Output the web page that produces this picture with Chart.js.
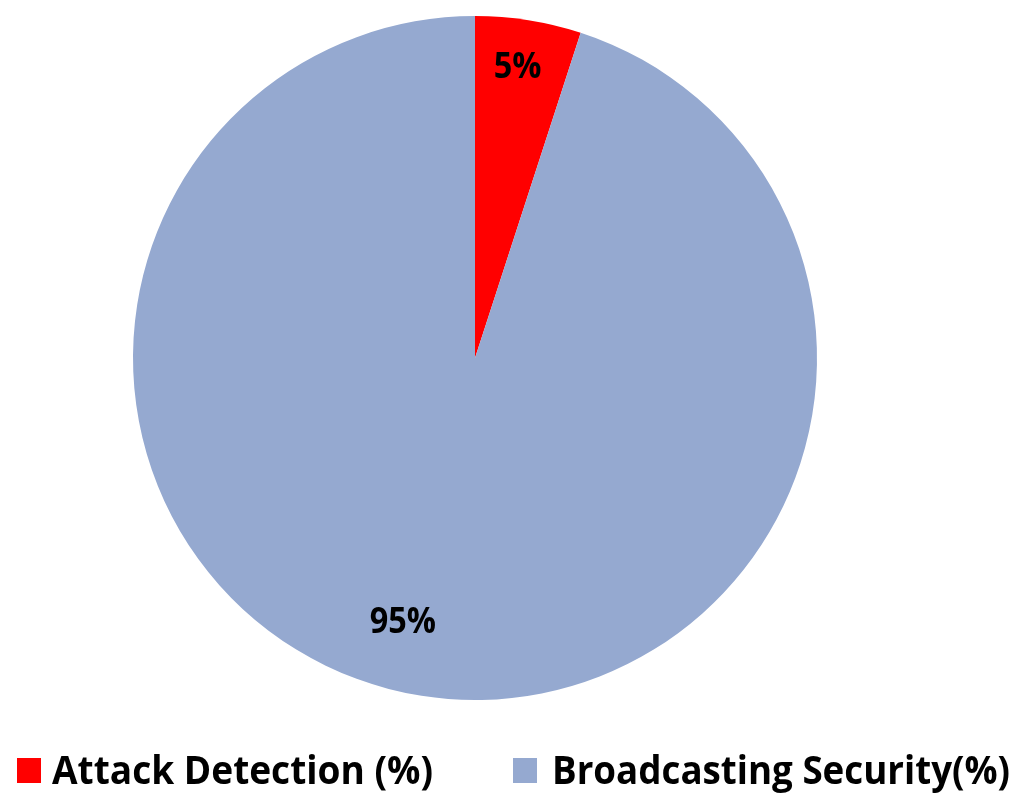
<!DOCTYPE html>
<html>
<head>
<meta charset="utf-8">
<script src="https://cdn.jsdelivr.net/npm/chart.js@4/dist/chart.umd.min.js"></script>
<style>
  html, body { margin: 0; padding: 0; background: #ffffff; }
  #wrap { width: 1024px; height: 810px; position: relative; }
</style>
</head>
<body>
<div id="wrap"><canvas id="c" width="1024" height="810"></canvas></div>
<script>
const categories = ["Attack Detection (%)", "Broadcasting Security(%)"];
const values = [5, 95];
const valueLabels = ["5%", "95%"];
const colors = ["#FF0000", "#95A9D0"];

const FONT = '"Open Sans", "Liberation Sans", sans-serif';

// Data labels drawn inside slices
const sliceLabels = {
  id: 'sliceLabels',
  afterDatasetsDraw(chart) {
    const ctx = chart.ctx;
    const meta = chart.getDatasetMeta(0);
    // per-slice radial fraction and angular offset (style)
    const place = [{ r: 0.86, da: -0.012 }, { r: 0.80, da: 0.11 }];
    meta.data.forEach((arc, i) => {
      const p = arc.getProps(['x', 'y', 'startAngle', 'endAngle', 'outerRadius'], true);
      const mid = (p.startAngle + p.endAngle) / 2 + place[i].da;
      const rr = p.outerRadius * place[i].r;
      const x = p.x + Math.cos(mid) * rr;
      const y = p.y + Math.sin(mid) * rr;
      ctx.save();
      ctx.font = 'bold 36px ' + FONT;
      ctx.fillStyle = '#000000';
      ctx.textAlign = 'center';
      ctx.textBaseline = 'middle';
      ctx.translate(x, y + 1);
      ctx.scale(0.9, 1);
      ctx.fillText(valueLabels[i], 0, 0);
      ctx.restore();
    });
  }
};

// Bottom legend with condensed bold text
const bottomLegend = {
  id: 'bottomLegend',
  afterDraw(chart) {
    const ctx = chart.ctx;
    const labels = chart.data.labels;
    const bg = chart.data.datasets[0].backgroundColor;
    const boxX = [17, 513];
    const textX = [52, 552];
    const textW = [381, 458];
    const boxTop = 758, boxSize = 25, baseline = 784;
    labels.forEach((lab, i) => {
      ctx.save();
      ctx.fillStyle = bg[i];
      ctx.fillRect(boxX[i], boxTop, 24, boxSize);
      ctx.font = 'bold 40px ' + FONT;
      ctx.fillStyle = '#000000';
      ctx.textBaseline = 'alphabetic';
      ctx.textAlign = 'left';
      const w = ctx.measureText(lab).width;
      const s = textW[i] / w;
      ctx.translate(textX[i], baseline);
      ctx.scale(s, 1);
      ctx.fillText(lab, 0, 0);
      ctx.restore();
    });
  }
};

new Chart(document.getElementById('c'), {
  type: 'pie',
  data: {
    labels: categories,
    datasets: [{
      data: values,
      backgroundColor: colors,
      borderWidth: 0
    }]
  },
  options: {
    responsive: false,
    animation: false,
    layout: { padding: { left: 133, right: 207, top: 16, bottom: 110 } },
    plugins: {
      legend: { display: false },
      tooltip: { enabled: false }
    }
  },
  plugins: [sliceLabels, bottomLegend]
});
</script>
</body>
</html>
